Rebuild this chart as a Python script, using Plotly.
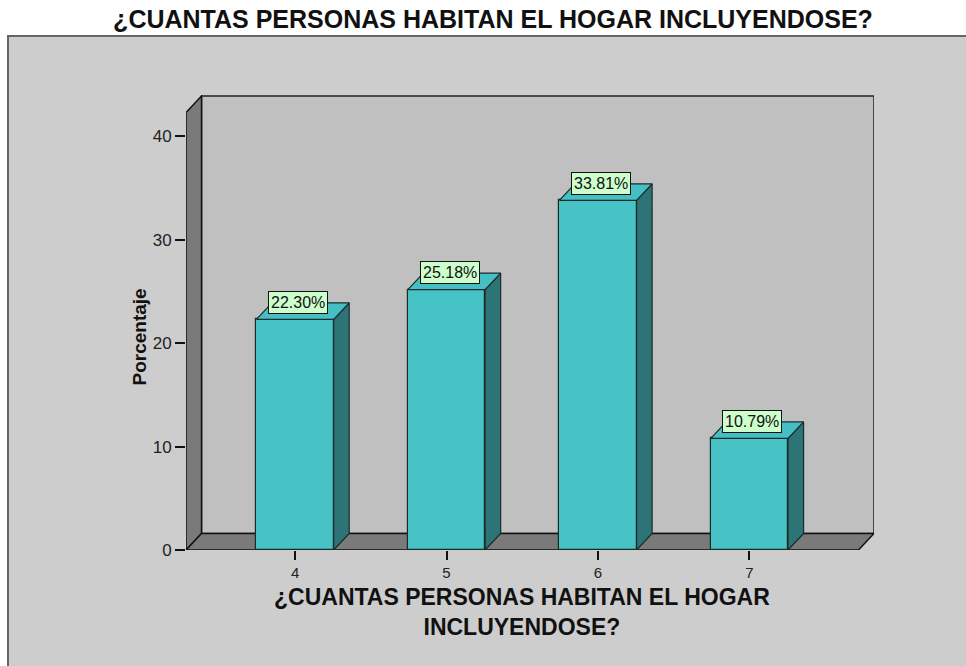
import plotly.graph_objects as go

# ---- data ----
categories = [4, 5, 6, 7]
percentages = [22.30, 25.18, 33.81, 10.79]
label_texts = ["22.30%", "25.18%", "33.81%", "10.79%"]
y_ticks = [0, 10, 20, 30, 40]
title_text = "¿CUANTAS PERSONAS HABITAN EL HOGAR INCLUYENDOSE?"
x_title = "¿CUANTAS PERSONAS HABITAN EL HOGAR<br>INCLUYENDOSE?"
y_title = "Porcentaje"

# ---- geometry (styles) ----
X0, X1 = 3.28, 7.72          # front floor extents
DX, DY = 0.1025, 1.6         # 3-D depth offset
WALL_TOP = 42.3
BAR_W = 0.51
FRONT = "#47c2c5"
SIDE = "#2c7476"
TOP = "#45bfc3"
EDGE = "#1b2b2b"
FONT = "Liberation Sans, Arial"

fig = go.Figure()

shapes = []
# outer gray panel
shapes.append(dict(type="rect", xref="paper", yref="paper",
                   x0=(8 - 186) / 688, x1=1.3, y0=-0.5, y1=(550 - 36) / 455,
                   fillcolor="#cdcdcd", line=dict(color="#666666", width=2), layer="below"))
# back wall
shapes.append(dict(type="path", xref="x", yref="y", layer="below",
                   path=f"M{X0+DX},{DY} L{X1+DX},{DY} L{X1+DX},{WALL_TOP+DY} L{X0+DX},{WALL_TOP+DY} Z",
                   fillcolor="#c0c0c0", line=dict(color="#222222", width=1.5)))
# left wall
shapes.append(dict(type="path", xref="x", yref="y", layer="below",
                   path=f"M{X0},0 L{X0},{WALL_TOP} L{X0+DX},{WALL_TOP+DY} L{X0+DX},{DY} Z",
                   fillcolor="#7a7a7a", line=dict(color="#111111", width=1.5)))
# floor
shapes.append(dict(type="path", xref="x", yref="y", layer="below",
                   path=f"M{X0},0 L{X1},0 L{X1+DX},{DY} L{X0+DX},{DY} Z",
                   fillcolor="#7a7a7a", line=dict(color="#111111", width=1.5)))

# front faces
fig.add_trace(go.Bar(x=categories, y=percentages, width=BAR_W,
                     marker=dict(color=FRONT, line=dict(color=EDGE, width=1.2)),
                     hoverinfo="skip", showlegend=False))

# side & top faces
for c, v in zip(categories, percentages):
    xl, xr = c - BAR_W / 2, c + BAR_W / 2
    fig.add_trace(go.Scatter(x=[xr, xr + DX, xr + DX, xr, xr], y=[0, DY, v + DY, v, 0],
                             fill="toself", fillcolor=SIDE, mode="lines",
                             line=dict(color=EDGE, width=1.2), hoverinfo="skip", showlegend=False))
    fig.add_trace(go.Scatter(x=[xl, xr, xr + DX, xl + DX, xl], y=[v, v, v + DY, v + DY, v],
                             fill="toself", fillcolor=TOP, mode="lines",
                             line=dict(color=EDGE, width=1.2), hoverinfo="skip", showlegend=False))

annotations = []
for c, v, t in zip(categories, percentages, label_texts):
    annotations.append(dict(x=c + 0.02, y=v + 0.5, xref="x", yref="y", text=t, showarrow=False,
                            yanchor="bottom", xanchor="center",
                            bgcolor="#ccffcc", bordercolor="#111111", borderwidth=1, borderpad=2,
                            font=dict(family=FONT, size=16, color="#111111")))
annotations.append(dict(x=(X0 + X1) / 2, y=(550 - 612) / 455, xref="x", yref="paper",
                        text=f"<b>{x_title}</b>", showarrow=False, yanchor="middle",
                        font=dict(family=FONT, size=23, color="#111111")))
annotations.append(dict(x=(126 - 186) / 688, y=(550 - 337) / 455, xref="paper", yref="paper",
                        text=f"<b>{y_title}</b>", showarrow=False, textangle=-90,
                        font=dict(family=FONT, size=19, color="#111111")))

fig.update_layout(
    width=966, height=666,
    margin=dict(l=186, r=92, t=95, b=116),
    paper_bgcolor="white", plot_bgcolor="rgba(0,0,0,0)",
    shapes=shapes, annotations=annotations,
    title=dict(text=f"<b>{title_text}</b>", x=493 / 966, y=1 - 19 / 666,
               xanchor="center", yanchor="middle",
               font=dict(family=FONT, size=25, color="#111111")),
    xaxis=dict(range=[X0, X1 + DX], tickvals=categories, ticktext=[str(c) for c in categories],
               ticks="outside", ticklen=9, tickcolor="#111111", tickwidth=1.5,
               showgrid=False, zeroline=False, showline=False, fixedrange=True,
               tickfont=dict(family=FONT, size=15, color="#222222")),
    yaxis=dict(range=[0, 44], tickvals=y_ticks, ticks="outside", ticklen=10,
               tickcolor="#111111", tickwidth=1.5, showgrid=False, zeroline=False, showline=False,
               fixedrange=True,
               tickfont=dict(family=FONT, size=17, color="#222222")),
    bargap=0,
)

fig.write_html("out.html", config={"displayModeBar": False},
               post_script="document.body.style.margin='0';document.body.style.overflow='hidden';")
